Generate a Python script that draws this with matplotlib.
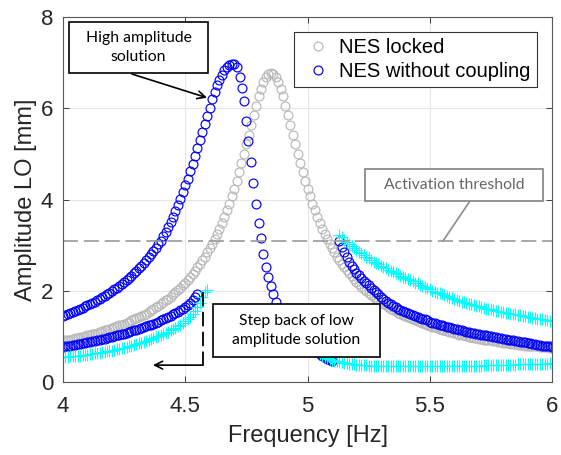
import numpy as np
import matplotlib
matplotlib.use("Agg")
import matplotlib.pyplot as plt
from matplotlib.patches import Rectangle

plt.rcParams['font.family'] = ['Liberation Sans', 'DejaVu Sans']

# ---- data (frequency in Hz, amplitude in mm) ----
# NES locked, 4.00 .. 6.00 Hz, 0.01 Hz step
f_locked = np.round(np.linspace(4.0, 6.0, 201), 2)
a_locked = [
    0.90, 0.91, 0.92, 0.93, 0.94, 0.96, 0.97, 0.98, 0.99, 1.01,
    1.02, 1.04, 1.05, 1.06, 1.08, 1.10, 1.11, 1.13, 1.15, 1.16,
    1.18, 1.20, 1.22, 1.24, 1.26, 1.28, 1.30, 1.32, 1.35, 1.37,
    1.40, 1.42, 1.45, 1.47, 1.50, 1.53, 1.57, 1.60, 1.64, 1.67,
    1.71, 1.75, 1.79, 1.83, 1.87, 1.92, 1.97, 2.02, 2.07, 2.12,
    2.18, 2.24, 2.31, 2.37, 2.44, 2.52, 2.59, 2.67, 2.75, 2.84,
    2.93, 3.03, 3.14, 3.25, 3.36, 3.49, 3.62, 3.76, 3.91, 4.07,
    4.24, 4.41, 4.60, 4.79, 5.00, 5.21, 5.42, 5.64, 5.86, 6.06,
    6.26, 6.43, 6.58, 6.69, 6.76, 6.78,
    6.76, 6.69, 6.58, 6.43,
    6.26, 6.06, 5.86, 5.64, 5.42, 5.21, 5.00, 4.79, 4.60, 4.41,
    4.24, 4.07, 3.91, 3.76, 3.62, 3.49, 3.36, 3.25, 3.14, 3.03,
    2.93, 2.84, 2.75, 2.67, 2.59, 2.52, 2.45, 2.38, 2.32, 2.26,
    2.20, 2.14, 2.09, 2.04, 1.99, 1.95, 1.90, 1.86, 1.82, 1.78,
    1.75, 1.71, 1.68, 1.64, 1.61, 1.58, 1.55, 1.52, 1.50, 1.47,
    1.45, 1.42, 1.40, 1.37, 1.35, 1.33, 1.31, 1.29, 1.27, 1.25,
    1.23, 1.21, 1.20, 1.18, 1.16, 1.15, 1.13, 1.11, 1.10, 1.09,
    1.07, 1.06, 1.04, 1.03, 1.02, 1.01, 0.99, 0.98, 0.97, 0.96,
    0.95, 0.94, 0.93, 0.92, 0.91, 0.91, 0.90, 0.89, 0.88, 0.87,
    0.86, 0.86, 0.85, 0.84, 0.84, 0.83, 0.82, 0.82, 0.81, 0.80,
    0.80, 0.79, 0.79, 0.78, 0.78, 0.77, 0.77, 0.76, 0.76, 0.75,
    0.75]

# NES without coupling - high amplitude branch, 4.00 .. 4.71 Hz
f_high = np.round(np.linspace(4.0, 4.71, 72), 2)
a_high = [
    1.45, 1.47, 1.49, 1.51, 1.54, 1.56, 1.58, 1.61, 1.63, 1.66,
    1.68, 1.71, 1.74, 1.76, 1.79, 1.82, 1.86, 1.89, 1.92, 1.96,
    1.99, 2.03, 2.07, 2.11, 2.15, 2.19, 2.24, 2.28, 2.33, 2.38,
    2.43, 2.49, 2.55, 2.60, 2.67, 2.73, 2.80, 2.87, 2.94, 3.02,
    3.10, 3.19, 3.29, 3.39, 3.50, 3.62, 3.75, 3.88, 4.02, 4.16,
    4.31, 4.46, 4.62, 4.78, 4.95, 5.12, 5.30, 5.48, 5.66, 5.84,
    6.01, 6.20, 6.36, 6.50, 6.62, 6.73, 6.83, 6.90, 6.95, 6.97,
    6.96, 6.90]

# NES without coupling - jump down after the peak
f_drop = [4.722, 4.733, 4.740, 4.748, 4.758, 4.770, 4.779, 4.789, 4.802, 4.810,
          4.819, 4.830, 4.840, 4.849, 4.858, 4.870, 4.88, 4.89, 4.90, 4.91,
          4.92, 4.93, 4.94, 4.95, 4.96, 4.97, 4.98, 4.99, 5.00, 5.01,
          5.02, 5.03, 5.04, 5.05, 5.06, 5.07, 5.08, 5.09, 5.10]
a_drop = [6.68, 6.44, 6.15, 5.72, 5.28, 4.82, 4.37, 3.91, 3.49, 3.15,
          2.81, 2.52, 2.31, 2.11, 1.92, 1.76, 1.63, 1.52, 1.42, 1.33,
          1.25, 1.18, 1.11, 1.05, 1.00, 0.95, 0.90, 0.85, 0.81, 0.77,
          0.73, 0.69, 0.65, 0.61, 0.57, 0.54, 0.51, 0.48, 0.45]

# NES without coupling - low amplitude branch, 4.00 .. 4.55 Hz
f_low = np.round(np.linspace(4.0, 4.55, 56), 2)
a_low = [
    0.77, 0.78, 0.79, 0.80, 0.81, 0.82, 0.83, 0.84, 0.85, 0.86,
    0.87, 0.88, 0.89, 0.90, 0.91, 0.93, 0.94, 0.95, 0.96, 0.98,
    0.99, 1.00, 1.02, 1.03, 1.05, 1.06, 1.08, 1.09, 1.11, 1.13,
    1.14, 1.16, 1.18, 1.20, 1.22, 1.24, 1.26, 1.28, 1.30, 1.32,
    1.35, 1.37, 1.40, 1.42, 1.45, 1.48, 1.51, 1.54, 1.57, 1.61,
    1.64, 1.68, 1.73, 1.79, 1.86, 1.92]

# NES without coupling - right branch, 5.13 .. 6.00 Hz
f_right = np.round(np.linspace(5.13, 6.0, 88), 2)
a_right = [
    3.08, 2.96, 2.85, 2.74, 2.64, 2.55, 2.47, 2.40, 2.34, 2.28,
    2.22, 2.17, 2.12, 2.07, 2.02, 1.97, 1.92, 1.87, 1.82, 1.78,
    1.74, 1.70, 1.67, 1.64, 1.61, 1.58, 1.56, 1.53, 1.51, 1.49,
    1.47, 1.45, 1.43, 1.41, 1.39, 1.37, 1.35, 1.32, 1.30, 1.29,
    1.27, 1.26, 1.24, 1.23, 1.21, 1.20, 1.18, 1.17, 1.16, 1.14,
    1.13, 1.12, 1.10, 1.09, 1.08, 1.07, 1.06, 1.05, 1.04, 1.03,
    1.02, 1.01, 1.00, 0.99, 0.98, 0.97, 0.96, 0.95, 0.94, 0.93,
    0.92, 0.91, 0.90, 0.89, 0.88, 0.88, 0.87, 0.86, 0.85, 0.84,
    0.83, 0.82, 0.81, 0.80, 0.80, 0.79, 0.78, 0.77]

# NES amplitude (cyan +)
f_nes1 = np.round(np.linspace(4.0, 4.59, 60), 2)
a_nes1 = [
    0.54, 0.55, 0.55, 0.56, 0.56, 0.57, 0.58, 0.58, 0.59, 0.60,
    0.60, 0.61, 0.62, 0.63, 0.64, 0.64, 0.65, 0.66, 0.67, 0.68,
    0.69, 0.70, 0.72, 0.73, 0.74, 0.75, 0.77, 0.78, 0.80, 0.81,
    0.83, 0.85, 0.86, 0.88, 0.90, 0.92, 0.94, 0.96, 0.98, 1.00,
    1.03, 1.05, 1.08, 1.10, 1.13, 1.16, 1.19, 1.22, 1.26, 1.30,
    1.34, 1.38, 1.43, 1.49, 1.56, 1.64, 1.74, 1.86, 1.98, 2.01]

f_nes2 = np.round(np.linspace(5.13, 6.0, 88), 2)
a_nes2 = [
    3.22, 3.17, 3.12, 3.07, 3.03, 2.98, 2.94, 2.90, 2.86, 2.82,
    2.78, 2.75, 2.71, 2.68, 2.64, 2.61, 2.58, 2.55, 2.52, 2.49,
    2.46, 2.43, 2.41, 2.38, 2.36, 2.33, 2.31, 2.28, 2.26, 2.23,
    2.21, 2.18, 2.16, 2.13, 2.11, 2.08, 2.06, 2.03, 2.00, 1.98,
    1.96, 1.94, 1.92, 1.90, 1.88, 1.86, 1.84, 1.82, 1.80, 1.78,
    1.76, 1.75, 1.73, 1.72, 1.70, 1.69, 1.67, 1.66, 1.64, 1.63,
    1.61, 1.60, 1.59, 1.57, 1.56, 1.55, 1.54, 1.53, 1.52, 1.51,
    1.50, 1.49, 1.48, 1.47, 1.46, 1.45, 1.44, 1.43, 1.42, 1.41,
    1.40, 1.39, 1.38, 1.37, 1.36, 1.35, 1.34, 1.33]

f_nes3 = np.round(np.linspace(5.05, 6.0, 96), 2)
a_nes3 = [
    0.62, 0.58, 0.55, 0.52, 0.50, 0.48, 0.46, 0.45, 0.44, 0.43,
    0.42, 0.41, 0.40, 0.40, 0.39, 0.38, 0.38, 0.37, 0.37, 0.37,
    0.36, 0.36, 0.36, 0.35, 0.35, 0.35,
    0.35, 0.35, 0.34, 0.34, 0.34, 0.34, 0.34, 0.34, 0.34, 0.34,
    0.34, 0.34, 0.34, 0.34, 0.34, 0.34, 0.34, 0.34, 0.34, 0.34,
    0.34, 0.34, 0.35, 0.35, 0.35, 0.35, 0.35, 0.35, 0.35, 0.35,
    0.35, 0.35, 0.35, 0.36, 0.36, 0.36, 0.36, 0.36, 0.36, 0.36,
    0.36, 0.37, 0.37, 0.37, 0.37, 0.37, 0.37, 0.37, 0.38, 0.38,
    0.38, 0.38, 0.38, 0.38, 0.38, 0.39, 0.39, 0.39, 0.39, 0.39,
    0.39, 0.40, 0.40, 0.40, 0.40, 0.40, 0.40, 0.40, 0.41, 0.41]

threshold = 3.1

gray = (0.72, 0.72, 0.72)
blue = (0, 0, 1)
cyan = (0, 1, 1)
circ = dict(ls='none', marker='o', ms=6.4, mfc='none', mew=0.85)
plus = dict(ls='none', marker='+', ms=8, mew=0.8, color=cyan)

fig = plt.figure(figsize=(5.61, 4.55), dpi=100)
ax = fig.add_axes([63/561, 1-382/455, 489/561, 365/455])

ax.plot(f_locked, a_locked, mec=gray, label='NES locked', **circ)
ax.plot(f_high, a_high, mec=blue, label='NES without coupling', **circ)
ax.plot(f_drop, a_drop, mec=blue, **circ)
ax.plot(f_low, a_low, mec=blue, **circ)
ax.plot(f_right, a_right, mec=blue, **circ)
ax.plot(f_nes1, a_nes1, **plus)
ax.plot(f_nes2, a_nes2, **plus)
ax.plot(f_nes3, a_nes3, **plus)
ax.axhline(threshold, color=(0.6, 0.6, 0.6), lw=1.2, dashes=(9, 3.5))

ax.set_xlim(4, 6)
ax.set_ylim(0, 8)
ax.set_xticks([4, 4.5, 5, 5.5, 6])
ax.set_xticklabels(['4', '4.5', '5', '5.5', '6'])
ax.set_yticks([0, 2, 4, 6, 8])
ax.grid(True, color=(0.9, 0.9, 0.9), lw=0.8)
ax.set_axisbelow(True)
ax.tick_params(direction='in', top=True, right=True, length=4, width=0.6,
               labelsize=16, colors=(0.15, 0.15, 0.15))
ax.tick_params(axis='x', pad=10)
ax.tick_params(axis='y', pad=7)
for s in ax.spines.values():
    s.set_color((0.35, 0.35, 0.35))
    s.set_linewidth(0.8)
ax.set_xlabel('Frequency [Hz]', fontsize=17, color=(0.15, 0.15, 0.15), labelpad=6)
ax.set_ylabel('Amplitude LO [mm]', fontsize=17, color=(0.15, 0.15, 0.15), labelpad=3)

leg = ax.legend(loc='upper right', bbox_to_anchor=(0.969, 0.959), borderaxespad=0,
                fontsize=14.5, fancybox=False, framealpha=1, edgecolor=(0.2, 0.2, 0.2),
                handlelength=1.8, handletextpad=0.15, borderpad=0.3, labelspacing=0.25)
leg.get_frame().set_linewidth(0.8)

# annotations (Calibri-like font)
afont = dict(family=['Lato', 'DejaVu Sans'], fontsize=11.3, ha='center', va='center',
             linespacing=1.45)

ax.add_patch(Rectangle((4.025, 6.78), 0.568, 1.11, fc='white', ec='black', lw=1.2, zorder=5))
ax.text(4.309, 7.33, 'High amplitude\nsolution', zorder=6, **afont)
ax.annotate('', xy=(4.589, 6.23), xytext=(4.282, 6.75), zorder=6,
            arrowprops=dict(arrowstyle='->', color='black', lw=1.2,
                            shrinkA=0, shrinkB=0, mutation_scale=14))

ax.add_patch(Rectangle((5.235, 3.97), 0.728, 0.70, fc='white', ec=(0.5, 0.5, 0.5), lw=1.2, zorder=5))
ax.text(5.599, 4.32, 'Activation threshold', color=(0.4, 0.4, 0.4), zorder=6, **afont)
ax.plot([5.665, 5.554], [3.97, 3.09], color=(0.55, 0.55, 0.55), lw=1.2, zorder=5)

ax.add_patch(Rectangle((4.613, 0.55), 0.684, 1.16, fc='white', ec='black', lw=1.2, zorder=5))
ax.text(4.955, 1.12, 'Step back of low\namplitude solution', zorder=6, **afont)
ax.plot([4.573, 4.573], [1.97, 0.37], color='black', lw=1.3, dashes=(8, 3), zorder=6)
ax.annotate('', xy=(4.368, 0.37), xytext=(4.573, 0.37), zorder=6,
            arrowprops=dict(arrowstyle='->', color='black', lw=1.2,
                            shrinkA=0, shrinkB=0, mutation_scale=14))

fig.savefig('out.png', dpi=100)
